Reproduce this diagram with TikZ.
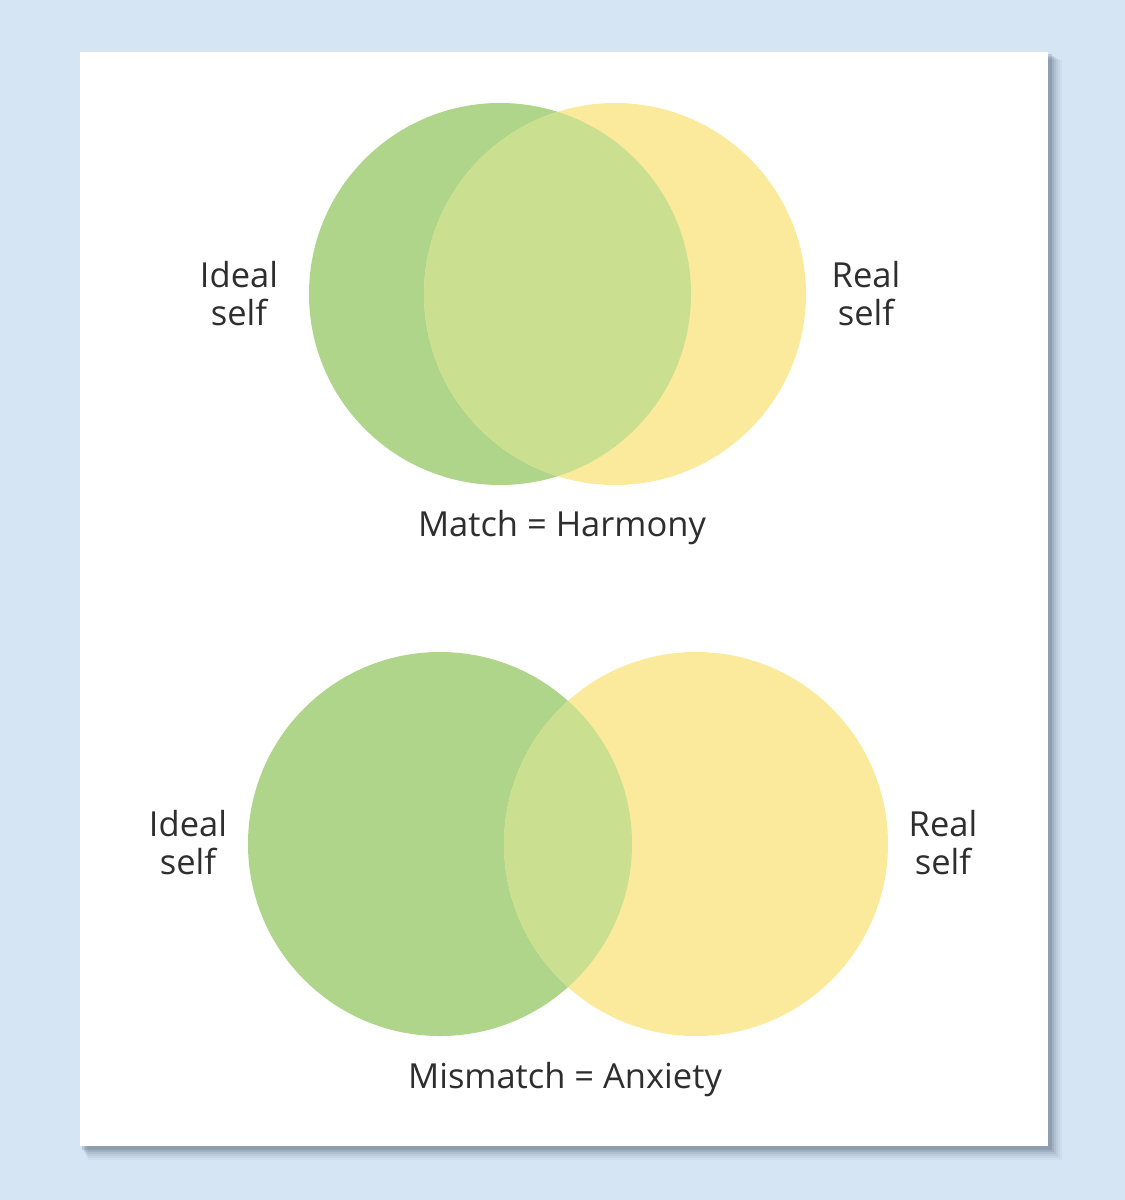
\documentclass[tikz,border=0pt]{standalone}
\usepackage{fontspec}
\setmainfont{Open Sans}
\definecolor{bgblue}{HTML}{D5E5F4}
\definecolor{greenc}{HTML}{AED58A}
\definecolor{yellowc}{HTML}{FBE99C}
\definecolor{overc}{HTML}{CADF90}
\definecolor{txt}{HTML}{2E2E2E}
\definecolor{shad}{HTML}{4A5A70}
\begin{document}
\begin{tikzpicture}[x=1pt,y=-1pt,
  lbl/.style={align=center,text=txt,font=\fontsize{34.5}{38}\selectfont,inner sep=0pt},
  captxt/.style={text=txt,font=\fontsize{34.5}{38}\selectfont,inner sep=0pt}]
\useasboundingbox (0,0) rectangle (1125,1200);
\fill[bgblue] (0,0) rectangle (1125,1200);
% shadow
\foreach \o/\a in {14/0.05,12/0.06,10/0.08,8/0.1,6/0.14,4/0.2}{
  \fill[shad,opacity=\a] (80+\o*0.6,52+\o*0.6) rectangle (1048+\o,1146+\o);
}
\fill[white] (80,52) rectangle (1048,1146);
% top pair
\fill[greenc] (500,294) circle (191);
\fill[yellowc] (615,294) circle (191);
\begin{scope}
  \clip (500,294) circle (191);
  \fill[overc] (615,294) circle (191);
\end{scope}
\node[lbl] (ideal1) at (239,294) {Ideal\\self};
\node[lbl] (real1) at (866,294) {Real\\self};
\node[captxt] (match) at (562,528) {Match = Harmony};
% bottom pair
\fill[greenc] (440,844) circle (192);
\fill[yellowc] (696,844) circle (192);
\begin{scope}
  \clip (440,844) circle (192);
  \fill[overc] (696,844) circle (192);
\end{scope}
\node[lbl] (ideal2) at (188,843) {Ideal\\self};
\node[lbl] (real2) at (943,843) {Real\\self};
\node[captxt] (mismatch) at (565,1080) {Mismatch = Anxiety};
\end{tikzpicture}
\end{document}
